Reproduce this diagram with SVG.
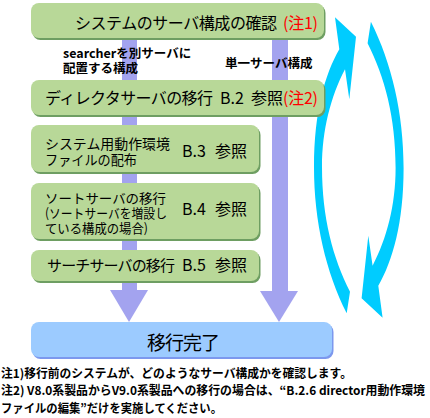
<svg xmlns="http://www.w3.org/2000/svg" width="430" height="418" viewBox="0 0 430 418">
<defs>
<style>
.g{fill:#B8D898}
.gs{fill:#6E9E62}
.b{fill:#9CCBFF}
.bs{fill:#7C98EE}
.shaft{fill:#A3A3EF}
.t{font-family:"Noto Sans CJK JP","Noto Sans",sans-serif;fill:#000}
.lb{font-family:"Noto Sans CJK JP","Noto Sans",sans-serif;font-weight:bold;font-size:12.5px;fill:#000}
.nt{font-family:"Noto Sans CJK JP","Noto Sans",sans-serif;font-weight:bold;font-size:12px;fill:#000}
.red{fill:#FF0000}
.cy{fill:#00CCFF}
</style>
<path id="carc" d="M346.7,313.3 C326,272 314,222 314,167 C314,112 325,74 339.3,49.3 L335,17.3 L356,36.7 L349.3,99.3 L345,69.3 C331,96 322,130 322,167 C322,218 333,258 350,291.7 Z"/>
</defs>
<g id="connectors">
<rect class="shaft" x="122" y="38" width="15" height="253"/>
<polygon class="shaft" points="110,290 148,290 129,322"/>
<rect class="shaft" x="272" y="38" width="16" height="254"/>
<polygon class="shaft" points="260,291 298,291 279,322"/>
<use href="#carc" class="cy"/>
<use href="#carc" class="cy" transform="rotate(180 358.8 167.5)"/>
<text class="lb" x="63" y="58">searcherを別サーバに</text>
<text class="lb" x="63" y="73">配置する構成</text>
<text class="lb" x="225" y="68">単一サーバ構成</text>
</g>
<g id="n1">
<rect class="gs" x="32.5" y="5" width="293" height="35" rx="8"/>
<rect class="g" x="31" y="3" width="293" height="35" rx="8"/>
<text class="t" x="75" y="29" font-size="16" textLength="202">システムのサーバ構成の確認</text>
<text class="t red" x="283" y="29" font-size="16" textLength="35">(注1)</text>
</g>
<g id="n2">
<rect class="gs" x="32.5" y="82" width="293" height="35" rx="8"/>
<rect class="g" x="31" y="80" width="293" height="35" rx="8"/>
<text class="t" x="45" y="104" font-size="16" textLength="168">ディレクタサーバの移行</text>
<text class="t" x="220" y="104" font-size="16">B.2</text>
<text class="t" x="251" y="104" font-size="16">参照</text>
<text class="t red" x="283" y="104" font-size="16" textLength="35">(注2)</text>
</g>
<g id="n3">
<rect class="gs" x="32.5" y="127" width="228" height="47" rx="8"/>
<rect class="g" x="31" y="125" width="228" height="47" rx="8"/>
<text class="t" x="45" y="149" font-size="13.5" textLength="125" lengthAdjust="spacingAndGlyphs">システム用動作環境</text>
<text class="t" x="45" y="165" font-size="13.5" textLength="92" lengthAdjust="spacingAndGlyphs">ファイルの配布</text>
<text class="t" x="182" y="157" font-size="16">B.3</text>
<text class="t" x="215" y="157" font-size="16">参照</text>
</g>
<g id="n4">
<rect class="gs" x="32.5" y="185" width="228" height="56" rx="8"/>
<rect class="g" x="31" y="183" width="228" height="56" rx="8"/>
<text class="t" x="45" y="203" font-size="13" textLength="121" lengthAdjust="spacingAndGlyphs">ソートサーバの移行</text>
<text class="t" x="45" y="218" font-size="13" textLength="122" lengthAdjust="spacingAndGlyphs">(ソートサーバを増設し</text>
<text class="t" x="45" y="233" font-size="13" textLength="103" lengthAdjust="spacingAndGlyphs">ている構成の場合)</text>
<text class="t" x="182" y="215" font-size="16">B.4</text>
<text class="t" x="215" y="215" font-size="16">参照</text>
</g>
<g id="n5">
<rect class="gs" x="32.5" y="252" width="228" height="31" rx="8"/>
<rect class="g" x="31" y="250" width="228" height="31" rx="8"/>
<text class="t" x="47" y="271" font-size="15" textLength="128">サーチサーバの移行</text>
<text class="t" x="182" y="271" font-size="16">B.5</text>
<text class="t" x="215" y="271" font-size="16">参照</text>
</g>
<g id="n6">
<rect class="bs" x="32.5" y="324" width="301" height="35" rx="8"/>
<rect class="b" x="31" y="322" width="301" height="35" rx="8"/>
<text class="t" x="147" y="350" font-size="19" textLength="73">移行完了</text>
</g>
<g id="notes">
<text class="nt" x="1" y="378" textLength="351" lengthAdjust="spacingAndGlyphs">注1)移行前のシステムが、どのようなサーバ構成かを確認します。</text>
<text class="nt" x="1" y="395" textLength="424" lengthAdjust="spacingAndGlyphs">注2) V8.0系製品からV9.0系製品への移行の場合は、“B.2.6 director用動作環境</text>
<text class="nt" x="1" y="413" textLength="221" lengthAdjust="spacingAndGlyphs">ファイルの編集”だけを実施してください。</text>
</g>
</svg>
